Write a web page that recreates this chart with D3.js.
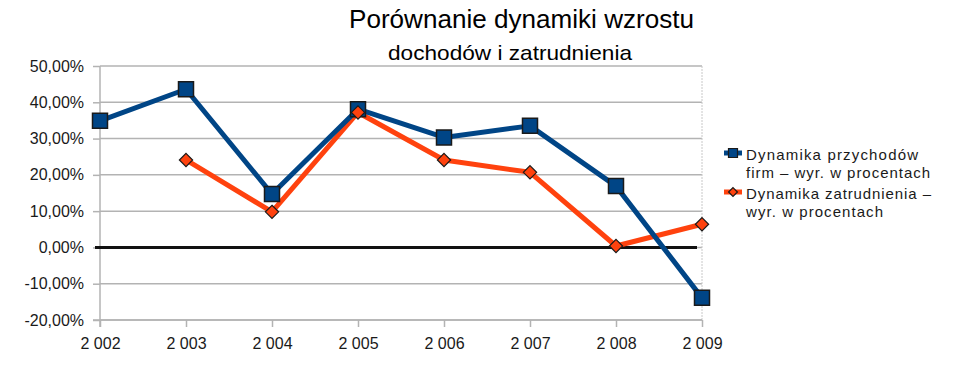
<!DOCTYPE html>
<html>
<head>
<meta charset="utf-8">
<script src="https://cdn.jsdelivr.net/npm/d3@7"></script>
<style>
  body { margin: 0; background: #fff; }
  svg { display: block; font-family: "Liberation Sans", Arial, sans-serif; }
  .axis path, .axis line { stroke: #b3b3b3; }
  .axis text { fill: #1a1a1a; font-size: 16px; }
</style>
</head>
<body>
<svg width="968" height="379"></svg>
<script>
// data
var years = [2002, 2003, 2004, 2005, 2006, 2007, 2008, 2009];
var przychody = [0.349, 0.436, 0.147, 0.381, 0.303, 0.335, 0.169, -0.139];
var zatrudnienie = [null, 0.241, 0.098, 0.372, 0.241, 0.207, 0.004, 0.064];
var yTicks = [-0.2, -0.1, 0, 0.1, 0.2, 0.3, 0.4, 0.5];
var seriesNames = [
  ["Dynamika przychodów", "firm – wyr. w procentach"],
  ["Dynamika zatrudnienia –", "wyr. w procentach"]
];

var blue = "#004586";
var orange = "#ff420e";

var pl = d3.formatLocale({
  decimal: ",",
  thousands: " ",
  grouping: [3],
  currency: ["", " zł"],
  minus: "-"
});

var svg = d3.select("svg");

var x = d3.scalePoint().domain(years).range([100, 702]);
var y = d3.scaleLinear().domain([-0.2, 0.5]).range([320, 66]);

// title
svg.append("text")
  .attr("x", 349).attr("y", 28)
  .attr("textLength", 345).attr("lengthAdjust", "spacingAndGlyphs")
  .style("font-size", "25px").style("fill", "#000")
  .text("Porównanie dynamiki wzrostu");
svg.append("text")
  .attr("x", 388).attr("y", 60)
  .attr("textLength", 244).attr("lengthAdjust", "spacingAndGlyphs")
  .style("font-size", "21px").style("fill", "#000")
  .text("dochodów i zatrudnienia");

// grid
svg.append("g")
  .selectAll("line")
  .data(yTicks)
  .enter()
  .append("line")
  .attr("x1", 100).attr("x2", 702)
  .attr("y1", function (d) { return y(d); })
  .attr("y2", function (d) { return y(d); })
  .style("stroke", "#b3b3b3")
  .style("stroke-width", 1.5);

svg.append("line")
  .attr("x1", 702).attr("x2", 702)
  .attr("y1", y(0.5)).attr("y2", y(-0.2))
  .style("stroke", "#c8c8c8")
  .style("stroke-dasharray", "2,1");

var yAxis = d3.axisLeft(y)
  .tickValues(yTicks)
  .tickSize(7)
  .tickPadding(9)
  .tickFormat(pl.format(".2%"));

var xAxis = d3.axisBottom(x)
  .tickSize(7)
  .tickPadding(11)
  .tickFormat(pl.format(","));

svg.append("g")
  .attr("class", "axis")
  .attr("transform", "translate(100,0)")
  .call(yAxis)
  .call(function (g) { g.select(".domain").attr("d", "M0," + y(0.5) + "V" + (y(-0.2) + 7)); });

svg.append("g")
  .attr("class", "axis")
  .attr("transform", "translate(0,320)")
  .call(xAxis)
  .call(function (g) { g.select(".domain").attr("d", "M93,0H702"); });

svg.selectAll(".axis line, .axis path").style("stroke-width", 1.5);

// zero line
svg.append("line")
  .attr("x1", 95).attr("x2", 697)
  .attr("y1", y(0)).attr("y2", y(0))
  .style("stroke", "#111")
  .style("stroke-width", 3);

var line = d3.line()
  .defined(function (d) { return d[1] !== null; })
  .x(function (d) { return x(d[0]); })
  .y(function (d) { return y(d[1]); });

var blueData = years.map(function (yr, i) { return [yr, przychody[i]]; });
var orangeData = years.map(function (yr, i) { return [yr, zatrudnienie[i]]; })
  .filter(function (d) { return d[1] !== null; });

svg.append("path")
  .datum(orangeData)
  .attr("d", line)
  .style("fill", "none")
  .style("stroke", orange)
  .style("stroke-width", 5)
  .style("stroke-linejoin", "round");

svg.append("path")
  .datum(blueData)
  .attr("d", line)
  .style("fill", "none")
  .style("stroke", blue)
  .style("stroke-width", 5)
  .style("stroke-linejoin", "round");

var square = d3.symbol().type(d3.symbolSquare).size(225);
var diamond = d3.symbol().type(d3.symbolDiamond2).size(112);

svg.append("g")
  .selectAll("path")
  .data(blueData)
  .enter()
  .append("path")
  .attr("d", square)
  .attr("transform", function (d) { return "translate(" + x(d[0]) + "," + y(d[1]) + ")"; })
  .style("fill", blue)
  .style("stroke", "#1a1a1a")
  .style("stroke-width", 1.5);

svg.append("g")
  .selectAll("path")
  .data(orangeData)
  .enter()
  .append("path")
  .attr("d", diamond)
  .attr("transform", function (d) { return "translate(" + x(d[0]) + "," + y(d[1]) + ")"; })
  .style("fill", orange)
  .style("stroke", "#1a1a1a")
  .style("stroke-width", 1.2);

// legend
var legend = svg.append("g");
var legendY = [153, 192];
var colors = [blue, orange];
var symbols = [d3.symbol().type(d3.symbolSquare).size(81), d3.symbol().type(d3.symbolDiamond2).size(50)];
var textLens = [[172, 184], [185, 137]];

seriesNames.forEach(function (names, i) {
  var ly = legendY[i];
  legend.append("line")
    .attr("x1", 724).attr("x2", 742)
    .attr("y1", ly).attr("y2", ly)
    .style("stroke", colors[i])
    .style("stroke-width", 5);
  legend.append("path")
    .attr("d", symbols[i])
    .attr("transform", "translate(733," + ly + ")")
    .style("fill", colors[i])
    .style("stroke", "#1a1a1a")
    .style("stroke-width", 1.2);
  names.forEach(function (t, j) {
    legend.append("text")
      .attr("x", 746)
      .attr("y", ly + 7 + j * 17.5)
      .attr("textLength", textLens[i][j])
      .attr("lengthAdjust", "spacing")
      .style("font-size", "15px")
      .style("fill", "#1a1a1a")
      .text(t);
  });
});
</script>
</body>
</html>
